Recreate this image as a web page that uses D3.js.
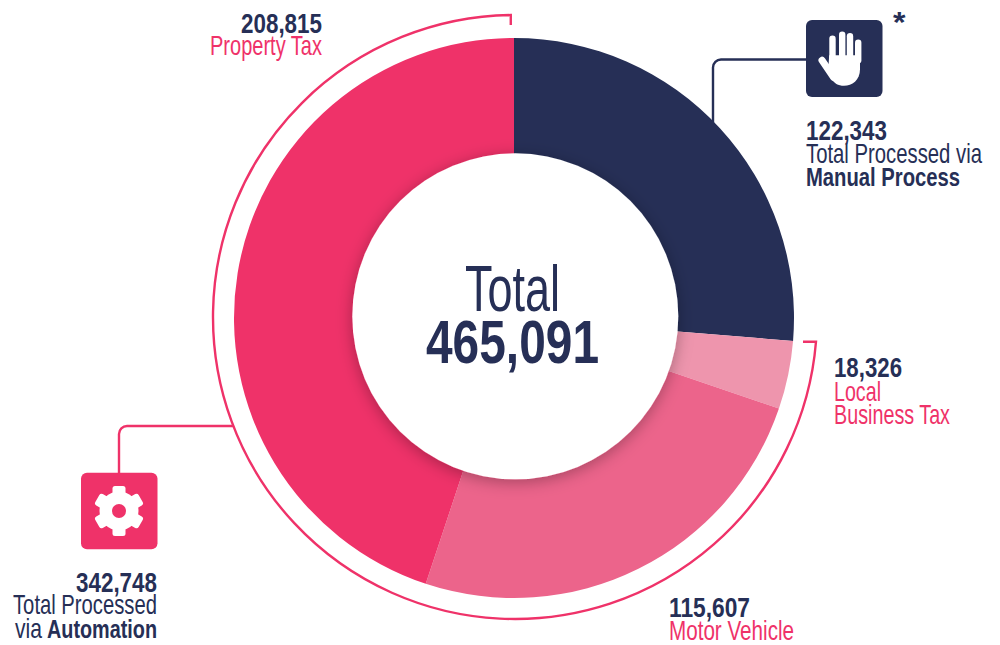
<!DOCTYPE html>
<html><head><meta charset="utf-8">
<style>html,body{margin:0;padding:0;background:#fff}svg{display:block}text{font-family:"Liberation Sans Narrow","Liberation Sans",sans-serif}</style>
<script src="https://cdn.jsdelivr.net/npm/d3@7"></script></head><body>
<script>
const categories = ["Manual Process","Local Business Tax","Motor Vehicle","Property Tax"];
const values = [122343,18326,115607,208815];
const sliceColors = ["#262F56","#EE95AD","#EC648B","#EF3269"];
const navy = "#262F56", pink = "#EF3269";

// text, x, baseline, width, size, weight, colour
const textRows = [
  ["Total",465,311,95,64,400,navy],
  ["465,091",426,363,173,61,700,navy],
  ["*",893,32,12.5,30,700,navy],
  ["122,343",806,140,81,28,700,navy],
  ["Total Processed via",806,163,176,28,400,navy],
  ["Manual Process",806,186,154,26.5,700,navy],
  ["18,326",834,377,68,28,700,navy],
  ["Local",834,401,47,28,400,pink],
  ["Business Tax",834,424,116,28,400,pink],
  ["115,607",669,617,81,28,700,navy],
  ["Motor Vehicle",669,640,125,28,400,pink],
  ["208,815",241,32.5,81,28,700,navy],
  ["Property Tax",210,55,112,28,400,pink],
  ["342,748",76,591.5,81,28,700,navy],
  ["Total Processed",13,614,144,28,400,navy],
  ["via",15,637.5,27,28,400,navy],
  ["Automation",47,637.5,110,26.5,700,navy]
];

const W=1000,H=645,cx=514,cy=318,rO=280,rI=155;
const svg=d3.select("body").append("svg").attr("width",W).attr("height",H).attr("viewBox",[0,0,W,H]);
const defs=svg.append("defs");
const f=defs.append("filter").attr("id","sh").attr("x","-30%").attr("y","-30%").attr("width","160%").attr("height","160%");
f.append("feDropShadow").attr("dx",0).attr("dy",3).attr("stdDeviation",8).attr("flood-color","#000").attr("flood-opacity",0.3);

const pie=d3.pie().sort(null).value(d=>d)(values);
const arc=d3.arc().innerRadius(rI).outerRadius(rO);
const g=svg.append("g").attr("transform",`translate(${cx},${cy})`);
g.selectAll("path.s").data(pie).join("path").attr("class","s").attr("d",arc).attr("fill",(d,i)=>sliceColors[i]);
svg.append("circle").attr("cx",515.3).attr("cy",316.3).attr("r",163).attr("fill","#fff").attr("filter","url(#sh)");

// bracket around the automated share
const bx=515,by=317,bR=302;
const autoStart=pie[1].startAngle, autoEnd=pie[3].endAngle-0.014;
const pt=(a,r)=>[bx+r*Math.sin(a),by-r*Math.cos(a)];
const bp=d3.path();
const s=pt(autoStart,bR), e=pt(autoEnd,bR);
bp.moveTo(s[0]-13,s[1]); bp.lineTo(s[0],s[1]);
bp.arc(bx,by,bR,autoStart-Math.PI/2,autoEnd-Math.PI/2,false);
bp.lineTo(e[0],e[1]+10);
svg.append("path").attr("d",bp.toString()).attr("fill","none").attr("stroke",pink).attr("stroke-width",2.4);

// connectors
svg.append("path").attr("d","M806,59.5H721a8,8 0 0 0 -8,8V123").attr("fill","none").attr("stroke",navy).attr("stroke-width",2.4);
svg.append("path").attr("d","M234,426H127a8,8 0 0 0 -8,8V474").attr("fill","none").attr("stroke",pink).attr("stroke-width",2.4);

// hand icon
svg.append("rect").attr("x",806).attr("y",20).attr("width",76.5).attr("height",77).attr("rx",6).attr("fill",navy);
const hand=svg.append("g").attr("transform","translate(844,58.3)");
hand.append("path").attr("fill","#fff").attr("d","M-14.8,-3 L16,-3 L16,11 C16,22 8,27.5 0,27.5 C-6,27.5 -10,25 -13,20 L-16,15 Z");
[[-11.5,-19.5],[-1.8,-23.5],[6,-22],[14.2,-15.5]].forEach(([x,y])=>hand.append("line").attr("x1",x).attr("x2",x).attr("y1",y).attr("y2",2).attr("stroke","#fff").attr("stroke-width",6.4).attr("stroke-linecap","round"));
hand.append("line").attr("x1",-22).attr("y1",2).attr("x2",-10.5).attr("y2",19).attr("stroke","#fff").attr("stroke-width",7).attr("stroke-linecap","round");

// gear icon
svg.append("rect").attr("x",81).attr("y",472.7).attr("width",76.5).attr("height",76.5).attr("rx",6).attr("fill",pink);
const gear=svg.append("g").attr("transform","translate(119,511)");
gear.append("circle").attr("r",19.5).attr("fill","#fff");
d3.range(6).forEach(i=>gear.append("rect").attr("x",-6.5).attr("y",-25).attr("width",13).attr("height",12).attr("rx",2.5).attr("fill","#fff").attr("transform",`rotate(${i*60})`));
gear.append("circle").attr("r",7).attr("fill",pink);

// labels
svg.selectAll("text.t").data(textRows).join("text").attr("class","t")
  .attr("x",d=>d[1]).attr("y",d=>d[2]).attr("textLength",d=>d[3]).attr("lengthAdjust","spacingAndGlyphs")
  .attr("font-size",d=>d[4]).attr("font-weight",d=>d[5]).attr("fill",d=>d[6]).text(d=>d[0]);
</script></body></html>
